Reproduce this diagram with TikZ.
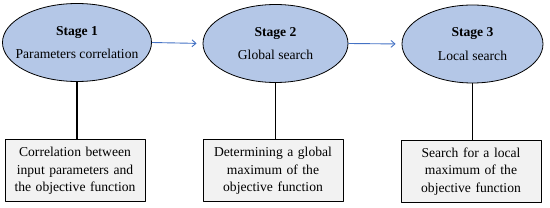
\documentclass[tikz,border=0pt]{standalone}
\usepackage{fontspec}
\setmainfont{Liberation Serif}
\usetikzlibrary{arrows.meta,shapes.geometric}
\definecolor{stagefill}{RGB}{180,199,231}
\definecolor{flowblue}{RGB}{68,114,196}
\definecolor{notefill}{RGB}{242,242,242}
\tikzset{stagebox/.style={ellipse,draw,line width=0.8pt,fill=stagefill,minimum height=78pt,inner sep=0pt},
  stagetext/.style={align=center,inner sep=0pt},
  notebox/.style={draw,line width=1pt,fill=notefill,minimum width=139pt,minimum height=62pt,inner sep=2pt,text width=136pt,align=center},
  flow/.style={flowblue,line width=0.9pt,-{Straight Barb[length=4pt,width=7pt]},shorten >=6pt}}

\begin{document}
\begin{tikzpicture}[x=1pt,y=-1pt,font=\fontsize{13.6}{17.5}\selectfont,line join=round]
\useasboundingbox (0,0) rectangle (550,208);
% --- stages
\node[stagebox,minimum width=149pt] (stA) at (77,42.5) {};
\node[stagebox,minimum width=145pt] (stB) at (275.5,43.5) {};
\node[stagebox,minimum width=141pt] (stC) at (472.5,44) {};
\node[stagetext] (stAtext) at (stA) {\textbf{Stage 1}\\[6pt] Parameters correlation};
\node[stagetext] (stBtext) at (stB) {\textbf{Stage 2}\\[6pt] Global search};
\node[stagetext] (stCtext) at (stC) {\textbf{Stage 3}\\[6pt] Local search};
\draw[flow] (stA.east) -- (stB.west);
\draw[flow] (stB.east) -- (stC.west);
% --- what each stage does
\node[notebox] (boxA) at (75,171) {Correlation between input parameters and the objective function};
\node[notebox] (boxB) at (273,171) {Determining a global maximum of the objective function};
\node[notebox] (boxC) at (471,171.5) {Search for a local maximum of the objective function};
\draw[line width=1.1pt] (stA.south) -- (stA.south |- boxA.north);
\draw[line width=1.1pt] (stB.south) -- (stB.south |- boxB.north);
\draw[line width=1.1pt] (stC.south) -- (stC.south |- boxC.north);
\end{tikzpicture}
\end{document}
